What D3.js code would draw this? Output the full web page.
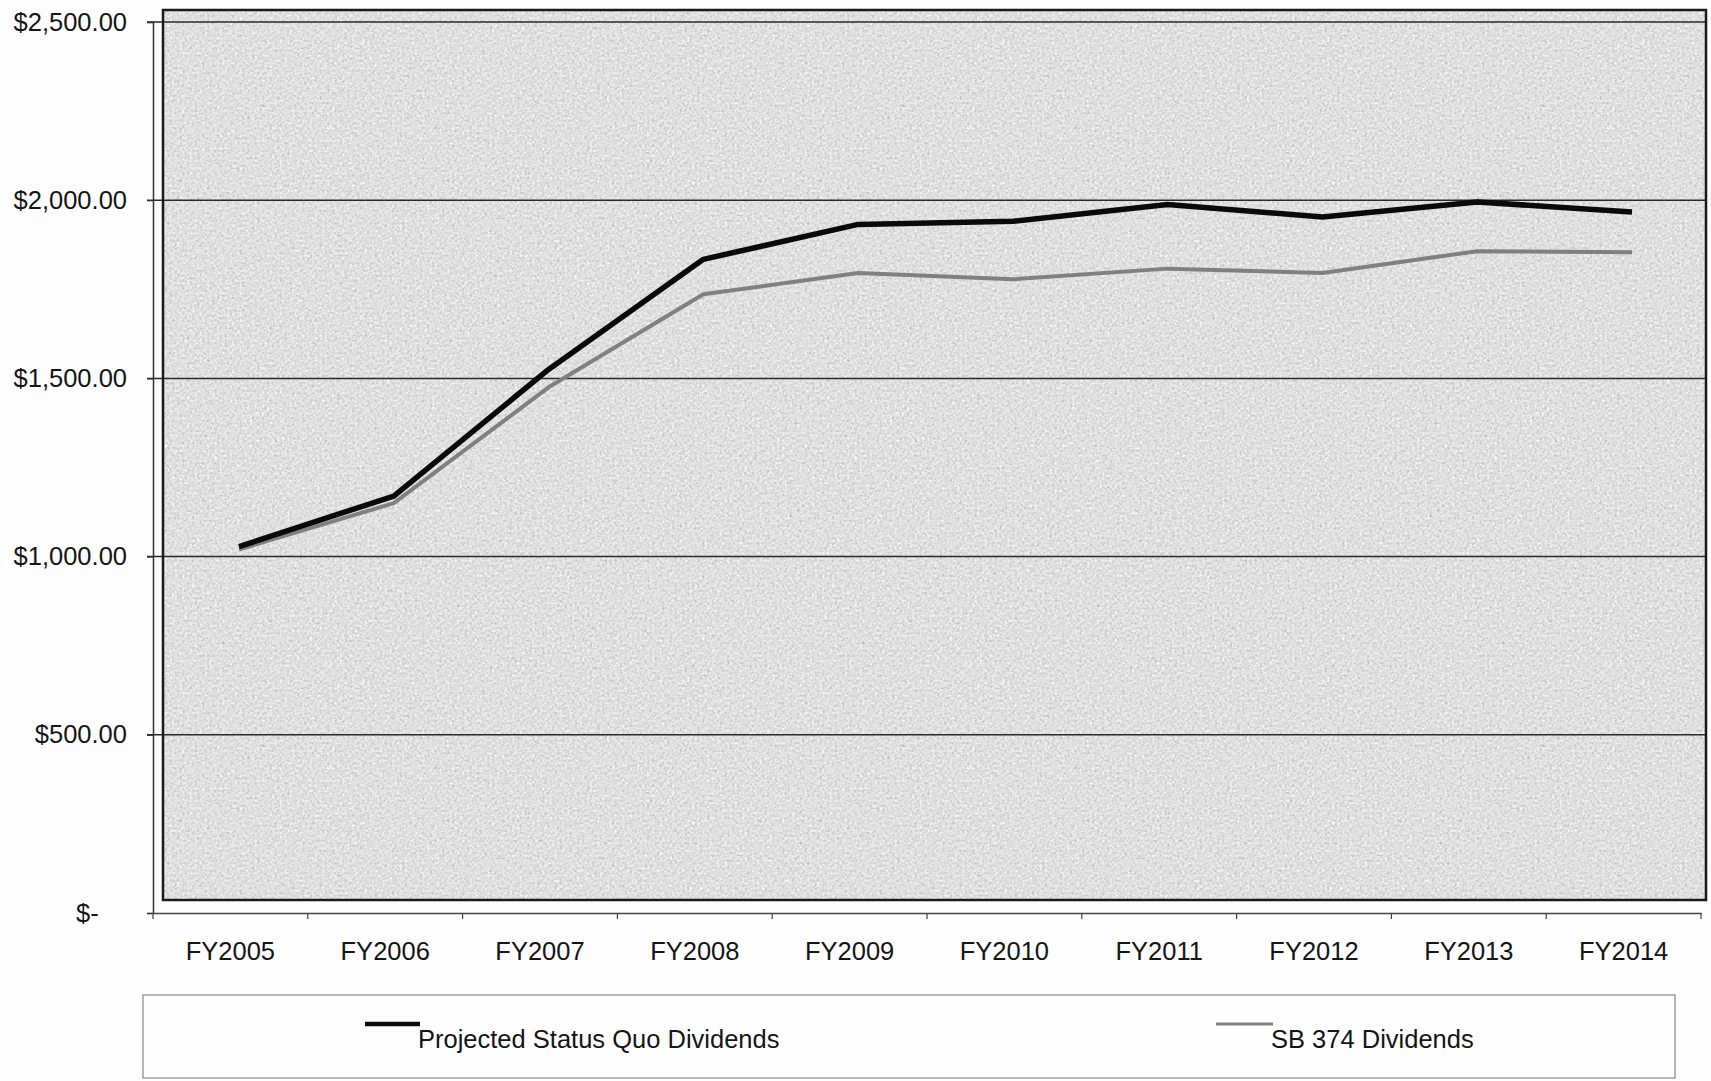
<!DOCTYPE html>
<html>
<head>
<meta charset="utf-8">
<script src="https://cdn.jsdelivr.net/npm/d3@7"></script>
<style>
  html, body { margin: 0; padding: 0; background: #fdfdfd; }
  svg { display: block; }
  text { font-family: "Liberation Sans", Arial, sans-serif; fill: #151515; }
</style>
</head>
<body>
<svg id="chart" width="1711" height="1081"></svg>
<script>
// Fiscal years on the category axis
const categories = ["FY2005", "FY2006", "FY2007", "FY2008", "FY2009",
                    "FY2010", "FY2011", "FY2012", "FY2013", "FY2014"];

// Dividend projections (dollars)
const statusQuoDividends = [1028, 1170, 1525, 1834, 1932, 1941, 1988, 1953, 1995, 1967];
const sb374Dividends     = [1020, 1150, 1475, 1736, 1796, 1778, 1808, 1796, 1857, 1854];

// Value axis ticks
const yTicks = [0, 500, 1000, 1500, 2000, 2500];

const seriesNames = ["Projected Status Quo Dividends", "SB 374 Dividends"];

const svg = d3.select("#chart");

// grainy fill for the plot area
const defs = svg.append("defs");
const grain = defs.append("filter")
  .attr("id", "grain").attr("x", 0).attr("y", 0).attr("width", 1).attr("height", 1)
  .attr("filterUnits", "objectBoundingBox")
  .attr("color-interpolation-filters", "sRGB");
grain.append("feTurbulence")
  .attr("type", "fractalNoise").attr("baseFrequency", "0.4")
  .attr("numOctaves", 3).attr("seed", 7).attr("result", "noise");
grain.append("feColorMatrix")
  .attr("type", "matrix")
  .attr("values",
    "0.17 0.17 0.17 0 0.62 " +
    "0.17 0.17 0.17 0 0.62 " +
    "0.17 0.17 0.17 0 0.62 " +
    "0 0 0 0 1");

const x = d3.scaleBand().domain(categories).range([153, 1701]);
const xp = d3.scalePoint().domain(categories).range([239, 1632]);
const y = d3.scaleLinear().domain([0, 2500]).range([913, 22]);

const fmt = v => v === 0 ? "$-\u00a0\u00a0\u00a0\u00a0" : "$" + d3.format(",.2f")(v);

// plot area background
svg.append("rect")
  .attr("x", 164).attr("y", 11).attr("width", 1541).attr("height", 888)
  .attr("fill", "#dcdcdc");
svg.append("rect")
  .attr("x", 164).attr("y", 11).attr("width", 1541).attr("height", 888)
  .attr("filter", "url(#grain)");

// horizontal gridlines
svg.append("g")
  .selectAll("line")
  .data(yTicks.filter(v => v > 0))
  .join("line")
  .attr("x1", 147).attr("x2", 1705)
  .attr("y1", d => y(d)).attr("y2", d => y(d))
  .attr("stroke", "#2a2a2a").attr("stroke-width", 1.5);

// plot area frame
svg.append("rect")
  .attr("x", 163).attr("y", 10).attr("width", 1543).attr("height", 890)
  .attr("fill", "none").attr("stroke", "#1a1a1a").attr("stroke-width", 2.5);

// value axis
const yAxis = svg.append("g")
  .attr("transform", "translate(153,0)")
  .call(d3.axisLeft(y).tickValues(yTicks).tickSize(6).tickPadding(20).tickFormat(fmt));
yAxis.select(".domain").attr("stroke", "#333").attr("stroke-width", 1.5);
yAxis.selectAll(".tick line").attr("stroke", "#333").attr("stroke-width", 1.2);
yAxis.selectAll(".tick text")
  .style("font-size", "25.5px").attr("fill", "#151515");

// category axis
const xAxis = svg.append("g")
  .attr("transform", "translate(0,913)")
  .call(d3.axisBottom(x).tickSize(0).tickPadding(29));
xAxis.select(".domain").attr("stroke", "#444").attr("stroke-width", 1.3);
xAxis.selectAll(".tick text")
  .style("font-size", "25.5px").attr("fill", "#151515");

// tick marks at the category boundaries
const edges = categories.map(c => x(c)).concat([x.range()[1]]);
svg.append("g")
  .selectAll("line")
  .data(edges)
  .join("line")
  .attr("x1", d => d).attr("x2", d => d)
  .attr("y1", 913).attr("y2", 919)
  .attr("stroke", "#444").attr("stroke-width", 1.2);

// series lines
const line = d3.line()
  .x((d, i) => xp(categories[i]))
  .y(d => y(d));

svg.append("path")
  .datum(sb374Dividends)
  .attr("d", line)
  .attr("fill", "none")
  .attr("stroke", "#808080")
  .attr("stroke-width", 4)
  .attr("stroke-linejoin", "round");

svg.append("path")
  .datum(statusQuoDividends)
  .attr("d", line)
  .attr("fill", "none")
  .attr("stroke", "#0a0a0a")
  .attr("stroke-width", 5.5)
  .attr("stroke-linejoin", "round");

// legend
const legend = svg.append("g");
legend.append("rect")
  .attr("x", 143).attr("y", 995).attr("width", 1532).attr("height", 83)
  .attr("fill", "#fefefe").attr("stroke", "#888").attr("stroke-width", 1.2);

const legendItems = [
  { name: seriesNames[0], color: "#0a0a0a", width: 4.5, x0: 365, x1: 420, tx: 418 },
  { name: seriesNames[1], color: "#808080", width: 3,   x0: 1216, x1: 1273, tx: 1271 }
];

const li = legend.selectAll("g.item").data(legendItems).join("g").attr("class", "item");
li.append("line")
  .attr("x1", d => d.x0).attr("x2", d => d.x1)
  .attr("y1", 1024).attr("y2", 1024)
  .attr("stroke", d => d.color).attr("stroke-width", d => d.width);
li.append("text")
  .attr("x", d => d.tx).attr("y", 1048)
  .style("font-size", "25.5px")
  .text(d => d.name);
</script>
</body>
</html>
